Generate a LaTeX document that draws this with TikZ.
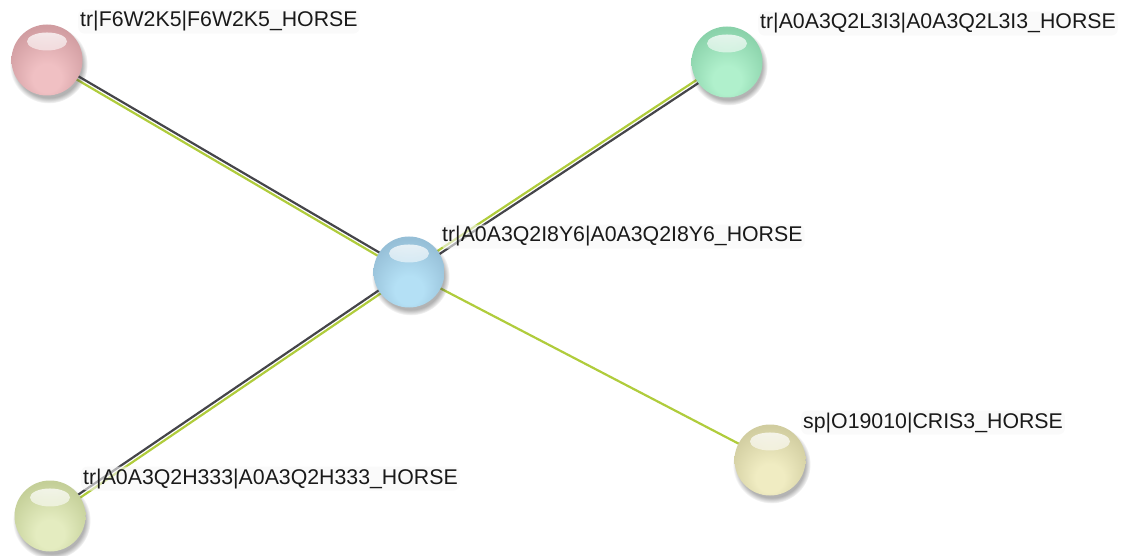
\documentclass[tikz,border=0pt]{standalone}
\usepackage{fontspec}
\setmainfont{Liberation Sans}
\usetikzlibrary{calc,backgrounds,fadings,shadows}

% radial sphere shadings: light core shifted down, darker rim
\newcommand\sphereshading[4]{%
  \pgfdeclareradialshading{#1}{\pgfpoint{0bp}{-16bp}}{%
    color(0bp)=(#2); color(10bp)=(#2); color(30bp)=(#3); color(44bp)=(#3!85!#4); color(50bp)=(#4)}}
\definecolor{pinkL}{HTML}{F0C0C3}\definecolor{pinkM}{HTML}{D19DA1}\definecolor{pinkD}{HTML}{9A6067}
\definecolor{blueL}{HTML}{B4E0F5}\definecolor{blueM}{HTML}{96BFD7}\definecolor{blueD}{HTML}{658DA5}
\definecolor{mintL}{HTML}{B0F0CC}\definecolor{mintM}{HTML}{8AD2AA}\definecolor{mintD}{HTML}{559875}
\definecolor{oliveL}{HTML}{E4ECC0}\definecolor{oliveM}{HTML}{C4CF98}\definecolor{oliveD}{HTML}{8E9C60}
\definecolor{sandL}{HTML}{F0ECC2}\definecolor{sandM}{HTML}{D1CDA0}\definecolor{sandD}{HTML}{9A9662}
\sphereshading{shPink}{pinkL}{pinkM}{pinkD}
\sphereshading{shBlue}{blueL}{blueM}{blueD}
\sphereshading{shMint}{mintL}{mintM}{mintD}
\sphereshading{shOlive}{oliveL}{oliveM}{oliveD}
\sphereshading{shSand}{sandL}{sandM}{sandD}
\definecolor{edgeDark}{HTML}{45454A}
\definecolor{edgeGreen}{HTML}{B0CC3C}

\tikzset{
  protein/.style={circle, minimum size=71pt, inner sep=0pt, shading=#1,
    circular drop shadow={shadow xshift=1.5pt, shadow yshift=-4pt, opacity=0.4, fill=black!75},
    path picture={
      \fill[white, path fading=south, opacity=0.85]
        ($(path picture bounding box.north)+(0,17)$) ellipse (20pt and 9pt);
    }},
  plabel/.style={anchor=base west, inner sep=2pt, font=\fontsize{21.3}{23}\selectfont, text=black!90,
    fill=black!3, fill opacity=0.6, text opacity=1, rounded corners=6pt},
  linkDark/.style={draw=edgeDark, line width=2.2pt},
  linkGreen/.style={draw=edgeGreen, line width=2.2pt},
}

\begin{document}
\begin{tikzpicture}[x=1pt, y=-1pt]
\useasboundingbox (0,0) rectangle (1133,556);

% proteins
\node[protein=shPink]  (f6w)  at (47,60)   {};
\node[protein=shMint]  (l3i)  at (727,62)  {};
\node[protein=shBlue]  (i8y)  at (409,272) {};
\node[protein=shSand]  (cris) at (770,460) {};
\node[protein=shOlive] (h333) at (50,516)  {};

% labels
\node[plabel] (tf6w)  at (78,27)   {tr|F6W2K5|F6W2K5\_HORSE};
\node[plabel] (tl3i)  at (758,29)  {tr|A0A3Q2L3I3|A0A3Q2L3I3\_HORSE};
\node[plabel] (ti8y)  at (440,242) {tr|A0A3Q2I8Y6|A0A3Q2I8Y6\_HORSE};
\node[plabel] (th333) at (81,484)  {tr|A0A3Q2H333|A0A3Q2H333\_HORSE};
\node[plabel] (tcris) at (801,428) {sp|O19010|CRIS3\_HORSE};

% interaction lines, paired evidence channels drawn side by side
\begin{scope}[on background layer]
  \draw[linkDark]  ($(f6w.center)!1.8pt!90:(i8y.center)$)  -- ($(i8y.center)!1.8pt!-90:(f6w.center)$);
  \draw[linkGreen] ($(f6w.center)!1.8pt!-90:(i8y.center)$) -- ($(i8y.center)!1.8pt!90:(f6w.center)$);
  \draw[linkDark]  ($(l3i.center)!1.8pt!90:(i8y.center)$)  -- ($(i8y.center)!1.8pt!-90:(l3i.center)$);
  \draw[linkGreen] ($(l3i.center)!1.8pt!-90:(i8y.center)$) -- ($(i8y.center)!1.8pt!90:(l3i.center)$);
  \draw[linkDark]  ($(h333.center)!1.8pt!90:(i8y.center)$)  -- ($(i8y.center)!1.8pt!-90:(h333.center)$);
  \draw[linkGreen] ($(h333.center)!1.8pt!-90:(i8y.center)$) -- ($(i8y.center)!1.8pt!90:(h333.center)$);
  \draw[linkGreen] (i8y.center) -- (cris.center);
\end{scope}
\end{tikzpicture}
\end{document}
